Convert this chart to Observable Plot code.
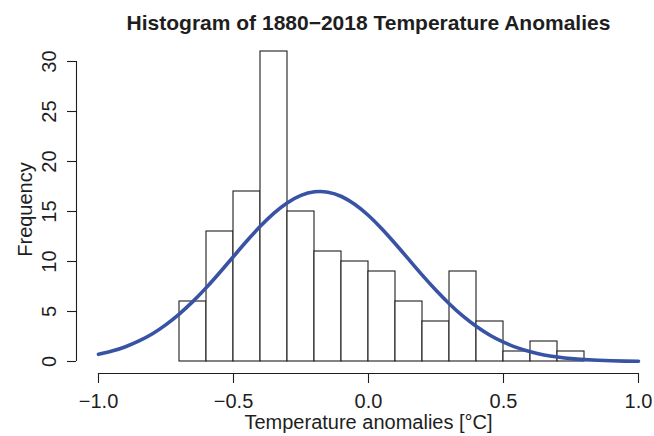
<!DOCTYPE html>
<html>
<head>
<meta charset="utf-8">
<script src="https://cdn.jsdelivr.net/npm/d3@7"></script>
<script src="https://cdn.jsdelivr.net/npm/@observablehq/plot@0.6"></script>
<style>
  html, body { margin: 0; padding: 0; background: #ffffff; }
  #chart svg { display: block; }
</style>
</head>
<body>
<div id="chart"></div>
<script>
// ---- data ----
const binStarts = [-0.7, -0.6, -0.5, -0.4, -0.3, -0.2, -0.1, 0.0, 0.1, 0.2, 0.3, 0.4, 0.5, 0.6, 0.7];
const binEnds   = [-0.6, -0.5, -0.4, -0.3, -0.2, -0.1, 0.0, 0.1, 0.2, 0.3, 0.4, 0.5, 0.6, 0.7, 0.8];
const counts    = [6, 13, 17, 31, 15, 11, 10, 9, 6, 4, 9, 4, 1, 2, 1];

// fitted normal curve
const curveX = [-1.00, -0.95, -0.90, -0.85, -0.80, -0.75, -0.70, -0.65, -0.60, -0.55, -0.50,
                -0.45, -0.40, -0.35, -0.30, -0.25, -0.20, -0.15, -0.10, -0.05, 0.00,
                0.05, 0.10, 0.15, 0.20, 0.25, 0.30, 0.35, 0.40, 0.45, 0.50,
                0.55, 0.60, 0.65, 0.70, 0.75, 0.80, 0.85, 0.90, 0.95, 1.00];
const curveY = [0.72, 1.04, 1.48, 2.06, 2.78, 3.69, 4.77, 6.01, 7.41, 8.93, 10.50,
                12.07, 13.54, 14.84, 15.88, 16.61, 16.97, 16.93, 16.50, 15.70, 14.60,
                13.25, 11.75, 10.18, 8.61, 7.12, 5.75, 4.53, 3.50, 2.63, 1.93,
                1.39, 0.97, 0.66, 0.45, 0.29, 0.19, 0.12, 0.07, 0.04, 0.02];

const xTicks = [-1.0, -0.5, 0.0, 0.5, 1.0];
const yTicks = [0, 5, 10, 15, 20, 25, 30];
const title  = "Histogram of 1880\u22122018 Temperature Anomalies";
const xLabel = "Temperature anomalies [\u00B0C]";
const yLabel = "Frequency";

// ---- tables built from the arrays ----
const bins  = binStarts.map((x0, i) => ({x0, x1: binEnds[i], count: counts[i]}));
const curve = curveX.map((x, i) => ({x, y: curveY[i]}));
const xMid  = (xTicks[0] + xTicks[xTicks.length - 1]) / 2;
const fmtX  = d => d.toFixed(1).replace("-", "\u2212");

const ink = "#1e1e1e";
const font = "'Liberation Sans', Arial, Helvetica, sans-serif";

const chart = Plot.plot({
  width: 654,
  height: 436,
  marginLeft: 76,
  marginRight: 16,
  marginTop: 39,
  marginBottom: 63,
  style: {fontFamily: font, fontSize: "20px", color: ink, background: "#ffffff", overflow: "visible"},
  x: {domain: [xTicks[0], xTicks[xTicks.length - 1]], insetLeft: 22},
  y: {domain: [0, 31], insetBottom: 12, insetTop: 12},
  marks: [
    // histogram bars
    Plot.rectY(bins, {x1: "x0", x2: "x1", y: "count", fill: "#ffffff", stroke: ink, strokeWidth: 1.1}),
    // fitted curve
    Plot.line(curve, {x: "x", y: "y", stroke: "#3953a4", strokeWidth: 3.6, curve: "natural"}),
    // x axis (R style, offset below the data)
    Plot.ruleY([0], {x1: xTicks[0], x2: xTicks[xTicks.length - 1], dy: 12, stroke: ink, strokeWidth: 1.1}),
    Plot.axisX({ticks: xTicks, tickSize: 10, tickPadding: 10, tickFormat: fmtX, label: null, fontSize: 20, strokeWidth: 1.1}),
    // y axis
    Plot.ruleX([xTicks[0]], {y1: yTicks[0], y2: yTicks[yTicks.length - 1], dx: -22, stroke: ink, strokeWidth: 1.1}),
    Plot.axisY({ticks: yTicks, tickSize: 9, tickFormat: () => "", label: null, strokeWidth: 1.1}),
    Plot.text(yTicks, {y: d => d, text: d => String(d), frameAnchor: "left", dx: -27, rotate: -90,
                       textAnchor: "middle", lineAnchor: "middle", fontSize: 20, fill: ink}),
    // labels
    Plot.text([yLabel], {frameAnchor: "left", dx: -51, dy: 3, rotate: -90, textAnchor: "middle",
                         lineAnchor: "middle", fontSize: 20, fill: ink}),
    Plot.text([xLabel], {x: () => xMid, frameAnchor: "bottom", dy: 49.5, textAnchor: "middle",
                         lineAnchor: "middle", fontSize: 20, fill: ink}),
    Plot.text([title], {x: () => xMid, frameAnchor: "top", dy: -16, textAnchor: "middle",
                        lineAnchor: "middle", fontSize: 21, fontWeight: "bold", fill: ink})
  ]
});

document.getElementById("chart").appendChild(chart);
</script>
</body>
</html>
